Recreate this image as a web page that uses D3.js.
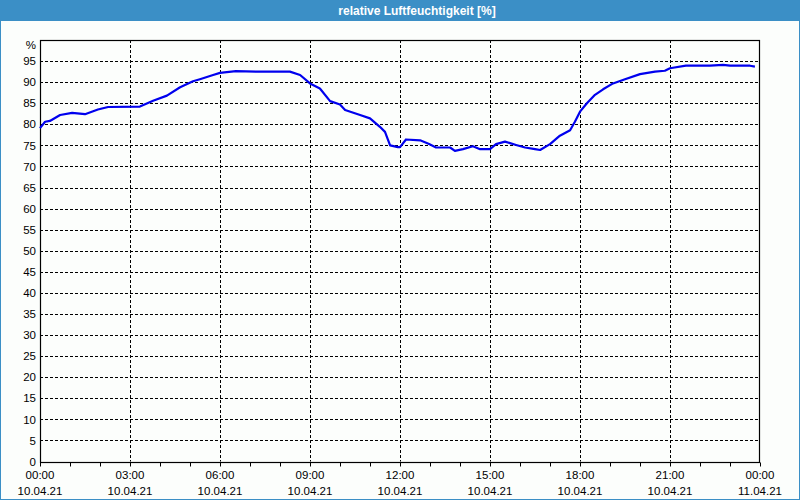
<!DOCTYPE html>
<html><head><meta charset="utf-8">
<script src="https://cdn.jsdelivr.net/npm/d3@7"></script>
<style>
html,body{margin:0;padding:0;background:#fcfefc;}
svg{display:block;}
</style></head>
<body>
<svg id="c" width="800" height="500"></svg>
<script>
const title = "relative Luftfeuchtigkeit [%]";
const unitLabel = "%";
// time in hours since 10.04.21 00:00
const hours = [0,0.17,0.33,0.5,0.67,1.07,1.5,1.93,2.27,3.33,3.77,4.23,4.67,5.1,5.33,5.77,6.0,6.53,7.2,8.33,8.67,9.0,9.33,9.67,10.0,10.17,10.67,11.0,11.33,11.5,11.67,11.93,12.0,12.2,12.67,12.97,13.2,13.67,13.83,14.1,14.43,14.67,15.0,15.2,15.5,15.87,16.17,16.5,16.67,17.0,17.33,17.67,17.83,18.0,18.23,18.5,18.77,19.1,19.5,20.0,20.5,20.83,21.0,21.53,22.33,22.77,23.0,23.67,23.83];
const humidity = [79.1,80.6,80.8,81.5,82.2,82.7,82.4,83.5,84.1,84.2,85.6,86.8,88.8,90.2,90.7,91.7,92.2,92.6,92.5,92.5,91.7,89.7,88.5,85.5,84.7,83.4,82.2,81.4,79.4,78.2,75.0,74.6,74.6,76.4,76.2,75.3,74.5,74.5,73.7,74.1,74.8,74.1,74.1,75.3,75.9,75.1,74.5,74.1,73.9,75.3,77.3,78.6,80.6,83.0,85.0,87.0,88.3,89.7,90.7,91.9,92.5,92.7,93.3,93.9,93.9,94.1,93.9,93.9,93.7];
const yTicks = [0,5,10,15,20,25,30,35,40,45,50,55,60,65,70,75,80,85,90,95];
const xMajor = [0,3,6,9,12,15,18,21,24];
const xTimeLabels = ["00:00","03:00","06:00","09:00","12:00","15:00","18:00","21:00","00:00"];
const xDateLabels = ["10.04.21","10.04.21","10.04.21","10.04.21","10.04.21","10.04.21","10.04.21","10.04.21","11.04.21"];
const xMinor = d3.range(0,25,1);

const svg = d3.select("#c");
const W=800,H=500;
const L=40,R=760,T=40,B=461.5;
const x = d3.scaleLinear().domain([0,24]).range([L,R]);
const y = d3.scaleLinear().domain([0,100]).range([B,T]);
const font = "'Liberation Sans', Arial, sans-serif";
const fs = "11.5px";

// border + title bar
svg.append("rect").attr("x",0.5).attr("y",0.5).attr("width",W-1).attr("height",H-1).attr("fill","#fcfefc").attr("stroke","#3b8fc6").attr("stroke-width",1);
svg.append("rect").attr("x",0).attr("y",0).attr("width",W).attr("height",21).attr("fill","#3b8fc6");
svg.append("text").attr("x",417).attr("y",15).attr("text-anchor","middle")
  .attr("fill","#ffffff").attr("font-family",font).attr("font-weight","bold").attr("font-size","12px").text(title);

// grid
const g = svg.append("g");
g.selectAll("line.hg").data(yTicks.filter(d=>d>0)).join("line")
  .attr("x1",L).attr("x2",R).attr("y1",d=>Math.round(y(d))+0.5).attr("y2",d=>Math.round(y(d))+0.5)
  .attr("stroke","#000").attr("stroke-width",1).attr("stroke-dasharray","3,2");
g.selectAll("line.vg").data(xMajor.filter(d=>d>0&&d<24)).join("line")
  .attr("y1",T).attr("y2",B).attr("x1",d=>Math.round(x(d))+0.5).attr("x2",d=>Math.round(x(d))+0.5)
  .attr("stroke","#000").attr("stroke-width",1).attr("stroke-dasharray","3,2");

// y axis labels
const yAxis = d3.axisLeft(y).tickValues(yTicks).tickSize(0).tickPadding(4);
const ya = svg.append("g").attr("transform",`translate(${L},0)`).call(yAxis);
ya.select(".domain").remove();
ya.selectAll("text").attr("font-family",font).attr("font-size",fs).attr("fill","#000");
svg.append("text").attr("x",36).attr("y",y(100)+9).attr("text-anchor","end")
  .attr("font-family",font).attr("font-size",fs).text(unitLabel);

// x minor ticks
const xAxis = d3.axisBottom(x).tickValues(xMinor).tickSize(4).tickFormat("");
const xa = svg.append("g").attr("transform",`translate(0,${Math.round(B)+0.5})`).call(xAxis);
xa.select(".domain").remove();
xa.selectAll("line").attr("stroke","#000");

// x labels
const lab = svg.append("g").attr("font-family",font).attr("font-size",fs).attr("text-anchor","middle").attr("fill","#000");
lab.selectAll("text.t").data(xMajor).join("text").attr("x",d=>x(d)).attr("y",479).text((d,i)=>xTimeLabels[i]);
lab.selectAll("text.d").data(xMajor).join("text").attr("x",d=>x(d)).attr("y",495).text((d,i)=>xDateLabels[i]);

// frame
svg.append("rect").attr("x",L+0.5).attr("y",T+0.5).attr("width",R-L-1).attr("height",Math.round(B)-T)
  .attr("fill","none").attr("stroke","#000").attr("stroke-width",1.2);

// line
const line = d3.line().x((d,i)=>x(hours[i])).y(d=>y(d));
svg.append("path").datum(humidity).attr("d",line).attr("fill","none")
  .attr("stroke","#0000ee").attr("stroke-width",2.2).attr("stroke-linejoin","round");
</script>
</body></html>
